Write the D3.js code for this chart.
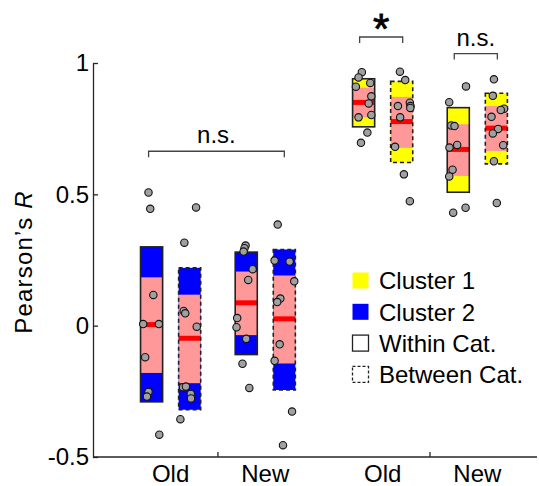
<!DOCTYPE html>
<html>
<head>
<meta charset="utf-8">
<script src="https://cdn.jsdelivr.net/npm/d3@7"></script>
<style>
  body { margin: 0; background: #fff; }
  svg { display: block; font-family: "Liberation Sans", Arial, sans-serif; }
</style>
</head>
<body>
<svg id="chart" width="539" height="486"></svg>
<script>
// groups along x, left to right
const clusters = ["Cluster 2", "Cluster 1"];
const ages = ["Old", "New"];
const comparisons = ["Within Cat.", "Between Cat."];

// one entry per box: cluster, age, comparison order
const boxCluster = ["Cluster 2", "Cluster 2", "Cluster 2", "Cluster 2", "Cluster 1", "Cluster 1", "Cluster 1", "Cluster 1"];
const boxAge = ["Old", "Old", "New", "New", "Old", "Old", "New", "New"];
const boxComparison = ["Within Cat.", "Between Cat.", "Within Cat.", "Between Cat.", "Within Cat.", "Between Cat.", "Within Cat.", "Between Cat."];
const boxHigh = [0.30, 0.22, 0.28, 0.29, 0.94, 0.93, 0.83, 0.885];
const boxLow = [-0.29, -0.32, -0.11, -0.245, 0.757, 0.621, 0.508, 0.616];
const bandHigh = [0.184, 0.118, 0.206, 0.191, 0.906, 0.871, 0.767, 0.836];
const bandLow = [-0.18, -0.219, -0.036, -0.144, 0.793, 0.677, 0.57, 0.665];
const boxCentre = [0.004, -0.048, 0.087, 0.026, 0.85, 0.777, 0.671, 0.752];

// individual R values per box, and their jitter (fraction of box width)
const pointValues = [
  [0.507, 0.445, 0.117, 0.006, 0.006, -0.12, -0.252, -0.27, -0.415],
  [0.45, 0.316, 0.056, 0.047, -0.004, -0.234, -0.232, -0.26, -0.277, -0.356],
  [0.305, 0.295, 0.282, 0.215, 0.174, 0.029, -0.006, -0.05, -0.145, -0.237],
  [0.385, 0.248, 0.244, 0.169, 0.103, 0.09, -0.071, -0.134, -0.327, -0.455],
  [0.965, 0.945, 0.91, 0.924, 0.873, 0.846, 0.802, 0.793, 0.735, 0.696],
  [0.967, 0.935, 0.836, 0.849, 0.836, 0.829, 0.793, 0.681, 0.576, 0.474],
  [0.911, 0.851, 0.762, 0.76, 0.678, 0.688, 0.594, 0.568, 0.43, 0.449],
  [0.938, 0.875, 0.826, 0.821, 0.795, 0.749, 0.732, 0.687, 0.626, 0.467]
];
const pointJitter = [
  [-0.14, -0.06, 0.08, -0.38, 0.33, -0.29, -0.14, -0.21, 0.35],
  [0.29, -0.24, -0.27, -0.2, 0.32, -0.3, -0.17, 0.05, 0.06, -0.42],
  [-0.03, -0.08, -0.12, 0.29, 0.09, -0.41, -0.44, 0, -0.17, 0.14],
  [-0.3, -0.44, 0.24, 0.45, -0.18, -0.32, -0.21, -0.44, 0.35, -0.06],
  [-0.08, -0.23, -0.35, 0.3, 0.35, 0.23, 0.35, -0.23, 0.17, -0.12],
  [-0.08, 0.16, -0.17, 0.37, 0.4, 0.39, -0.07, -0.3, 0.1, 0.37],
  [0.35, -0.41, -0.32, -0.17, -0.4, -0.05, -0.26, -0.41, -0.23, 0.33],
  [-0.11, -0.16, 0.35, 0.2, -0.22, 0.08, -0.16, 0.31, -0.11, 0.02]
];

// significance marks: cluster they sit over, label, bracket height (R units)
const sigCluster = ["Cluster 2", "Cluster 1", "Cluster 1"];
const sigAge = [null, "Old", "New"];
const sigLabel = ["n.s.", "*", "n.s."];
const sigLevel = [0.664, 1.099, 1.036];

const yTicks = [-0.5, 0, 0.5, 1];

const clusterColor = { "Cluster 1": "#ffff00", "Cluster 2": "#0000ff" };
const axisColor = "#262626";

const svg = d3.select("#chart");
const plotLeft = 93, plotRight = 537, plotTop = 63, plotBottom = 457;

const y = d3.scaleLinear().domain([-0.5, 1]).range([plotBottom, plotTop]);

const xCluster = d3.scaleBand().domain(clusters)
    .range([plotLeft, plotRight]).paddingOuter(0.047).align(0.95);
const xAge = d3.scaleBand().domain(ages)
    .range([0, xCluster.bandwidth()]).paddingOuter(0.12);
const xComp = d3.scaleBand().domain(comparisons)
    .range([0, xAge.bandwidth()]).paddingInner(0.42).paddingOuter(0.453);

const boxes = boxHigh.map((hi, i) => ({
    cluster: boxCluster[i], age: boxAge[i], comp: boxComparison[i],
    hi, lo: boxLow[i], bHi: bandHigh[i], bLo: bandLow[i], mid: boxCentre[i],
    points: pointValues[i].map((v, j) => ({ v, j: pointJitter[i][j] }))
}));
const boxX = d => xCluster(d.cluster) + xAge(d.age) + xComp(d.comp);
const bw = xComp.bandwidth();

// axes
const yAxis = d3.axisLeft(y).tickValues(yTicks).tickFormat(d => String(d))
    .tickSizeInner(-5).tickSizeOuter(0).tickPadding(4);
const gy = svg.append("g").attr("transform", `translate(${plotLeft},0)`).call(yAxis);
gy.selectAll("text").attr("font-size", 24).attr("fill", "#000")
    .attr("font-family", "Liberation Sans, Arial, sans-serif");

const xAxis = d3.axisBottom(xCluster).tickFormat("").tickSizeInner(-5).tickSizeOuter(0);
const gx = svg.append("g").attr("transform", `translate(0,${plotBottom})`).call(xAxis);
gx.select(".domain").attr("d", `M${plotLeft},0H${plotRight}`);

[gx, gy].forEach(g => {
    g.selectAll("path, line").attr("stroke", axisColor).attr("stroke-width", 1.3);
});

// x category labels
svg.append("g").selectAll("text")
    .data(d3.cross(clusters, ages))
    .join("text")
    .attr("x", d => xCluster(d[0]) + xAge(d[1]) + xAge.bandwidth() / 2)
    .attr("y", 482)
    .attr("text-anchor", "middle")
    .attr("font-size", 24)
    .text(d => d[1]);

// y label
svg.append("text")
    .attr("transform", `translate(32,262) rotate(-90)`)
    .attr("text-anchor", "middle")
    .attr("font-size", 24)
    .attr("letter-spacing", 1.2)
    .call(t => {
        t.append("tspan").text("Pearson\u2019s ");
        t.append("tspan").attr("font-style", "italic").text("R");
    });

// boxes
const gBox = svg.append("g").selectAll("g").data(boxes).join("g");
gBox.append("rect")
    .attr("x", boxX).attr("width", bw)
    .attr("y", d => y(d.hi)).attr("height", d => y(d.lo) - y(d.hi))
    .attr("fill", d => clusterColor[d.cluster]);
gBox.append("rect")
    .attr("x", boxX).attr("width", bw)
    .attr("y", d => y(d.bHi)).attr("height", d => y(d.bLo) - y(d.bHi))
    .attr("fill", "#ff9999");
gBox.append("line")
    .attr("x1", boxX).attr("x2", d => boxX(d) + bw)
    .attr("y1", d => y(d.mid)).attr("y2", d => y(d.mid))
    .attr("stroke", "#ff0000").attr("stroke-width", 5);
gBox.append("rect")
    .attr("x", boxX).attr("width", bw)
    .attr("y", d => y(d.hi)).attr("height", d => y(d.lo) - y(d.hi))
    .attr("fill", "none")
    .attr("stroke", "#222").attr("stroke-width", 1.6)
    .attr("stroke-dasharray", d => d.comp === "Between Cat." ? "4,3" : null);

// data points
gBox.selectAll("circle")
    .data(d => d.points.map(p => ({ ...p, cx: boxX(d) + bw / 2 + p.j * bw })))
    .join("circle")
    .attr("cx", d => d.cx)
    .attr("cy", d => y(d.v))
    .attr("r", 3.7)
    .attr("fill", "#a0a0a0")
    .attr("stroke", "#111")
    .attr("stroke-width", 1.1);

// significance brackets
const centreOf = (c, a, comp) => xCluster(c) + xAge(a) + xComp(comp) + bw / 2;
sigLabel.forEach((lab, i) => {
    const c = sigCluster[i], a = sigAge[i];
    const x1 = a ? centreOf(c, a, comparisons[0]) - 4 : centreOf(c, ages[0], comparisons[0]) - 3;
    const x2 = a ? centreOf(c, a, comparisons[1]) + 1 : centreOf(c, ages[1], comparisons[1]);
    const yb = y(sigLevel[i]);
    svg.append("path")
        .attr("d", `M${x1},${yb + 6}V${yb}H${x2}V${yb + 6}`)
        .attr("fill", "none").attr("stroke", "#444").attr("stroke-width", 1.3);
    const star = lab === "*";
    svg.append("text")
        .attr("x", (x1 + x2) / 2)
        .attr("y", star ? yb + 6 : yb - 8)
        .attr("text-anchor", "middle")
        .attr("font-size", star ? 42 : 24)
        .attr("stroke", star ? "#000" : null)
        .attr("stroke-width", star ? 0.8 : null)
        .text(lab);
});

// legend
const legendItems = [
    { label: "Cluster 1", fill: clusterColor["Cluster 1"], dash: null, stroke: "none" },
    { label: "Cluster 2", fill: clusterColor["Cluster 2"], dash: null, stroke: "none" },
    { label: "Within Cat.", fill: "none", dash: null, stroke: "#222" },
    { label: "Between Cat.", fill: "none", dash: "3,2", stroke: "#222" }
];
const legend = svg.append("g").attr("transform", "translate(352,281)")
    .selectAll("g").data(legendItems).join("g")
    .attr("transform", (d, i) => `translate(0,${i * 31.3})`);
legend.append("rect")
    .attr("x", 0.5).attr("y", -8.5).attr("width", 16).attr("height", 16)
    .attr("fill", d => d.fill)
    .attr("stroke", d => d.stroke).attr("stroke-width", 1.3)
    .attr("stroke-dasharray", d => d.dash);
legend.append("text")
    .attr("x", 27).attr("y", 0).attr("dy", "0.35em")
    .attr("font-size", 24)
    .text(d => d.label);
</script>
</body>
</html>
